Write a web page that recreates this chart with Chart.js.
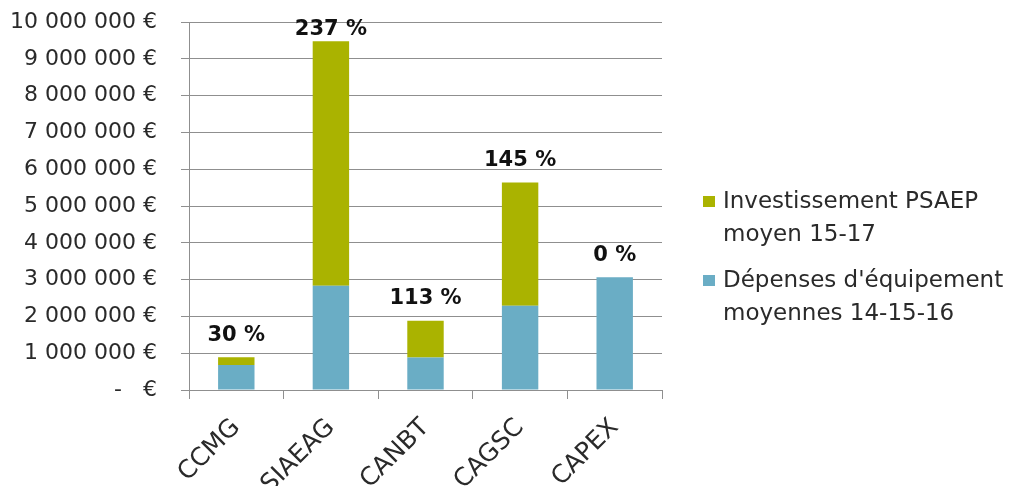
<!DOCTYPE html>
<html><head><meta charset="utf-8">
<script src="https://cdn.jsdelivr.net/npm/chart.js@4/dist/chart.umd.min.js"></script>
<style>html,body{margin:0;padding:0;background:#fff;} #wrap{width:1032px;height:486px;position:relative;}</style>
</head><body><div id="wrap"><canvas id="c" width="1032" height="486"></canvas></div>
<script>
const categories = ['CCMG', 'SIAEAG', 'CANBT', 'CAGSC', 'CAPEX'];
const depenses = [680000, 2830000, 880000, 2290000, 3065000];
const investissement = [210000, 6650000, 1005000, 3350000, 0];
const pctLabels = ['30 %', '237 %', '113 %', '145 %', '0 %'];
const seriesNames = ["Dépenses d'équipement moyennes 14-15-16", 'Investissement PSAEP moyen 15-17'];
const legendLines = [["Dépenses d'équipement", 'moyennes 14-15-16'], ['Investissement PSAEP', 'moyen 15-17']];
const yMax = 10000000;
const yStep = 1000000;

const FONT = '"DejaVu Sans", sans-serif';
const BLUE = '#6aadc5';
const GREEN = '#aab300';
const GRID = '#8f8f8f';
const TEXT = '#2a2a2a';

function fmtEuro(v) {
  if (v === 0) return '-   €';
  return String(Math.round(v)).replace(/\B(?=(\d{3})+(?!\d))/g, ' ') + ' €';
}

const sideLegend = {
  id: 'sideLegend',
  afterDraw(chart) {
    const ctx = chart.ctx;
    ctx.save();
    ctx.font = '23px ' + FONT;
    ctx.textAlign = 'left';
    ctx.textBaseline = 'alphabetic';
    let y = 208;
    const ds = chart.data.datasets;
    for (let k = ds.length - 1; k >= 0; k--) {
      ctx.fillStyle = ds[k].backgroundColor;
      ctx.fillRect(703, y - 12, 12, 11);
      ctx.fillStyle = TEXT;
      legendLines[k].forEach((line, j) => ctx.fillText(line, 723, y + j * 33));
      y += 33 * (legendLines[k].length - 1) + 46;
    }
    ctx.restore();
  }
};

const pctPlugin = {
  id: 'pctLabels',
  afterDatasetsDraw(chart) {
    const ctx = chart.ctx;
    const meta = chart.getDatasetMeta(chart.data.datasets.length - 1);
    ctx.save();
    ctx.font = 'bold 21px ' + FONT;
    ctx.textAlign = 'center';
    ctx.textBaseline = 'middle';
    ctx.fillStyle = '#111';
    meta.data.forEach((el, i) => {
      const y = Math.max(el.y - 22, chart.chartArea.top + 8);
      ctx.fillText(pctLabels[i], el.x, y);
    });
    ctx.restore();
  }
};

new Chart(document.getElementById('c'), {
  type: 'bar',
  data: {
    labels: categories,
    datasets: [
      { label: seriesNames[0], data: depenses, backgroundColor: BLUE, categoryPercentage: 0.385, barPercentage: 1 },
      { label: seriesNames[1], data: investissement, backgroundColor: GREEN, categoryPercentage: 0.385, barPercentage: 1 }
    ]
  },
  options: {
    responsive: false,
    animation: false,
    devicePixelRatio: 1,
    layout: { padding: { top: 22, right: 370, bottom: 0, left: 0 } },
    plugins: { legend: { display: false }, tooltip: { enabled: false } },
    scales: {
      x: {
        stacked: true,
        afterFit(s) { s.height = 96; s.paddingLeft = 0; s.paddingRight = 0; },
        grid: { drawOnChartArea: false, offset: true, tickLength: 9, color: GRID, lineWidth: 1 },
        border: { color: GRID },
        ticks: { font: { family: FONT, size: 25 }, color: TEXT, maxRotation: 45, minRotation: 45, padding: 14 }
      },
      y: {
        stacked: true,
        min: 0,
        max: yMax,
        afterFit(s) { s.width = 189; s.paddingTop = 0; s.paddingBottom = 0; },
        grid: { color: GRID, tickLength: 8, lineWidth: 1 },
        border: { color: GRID },
        ticks: { stepSize: yStep, font: { family: FONT, size: 22 }, color: TEXT, padding: 24, callback: v => fmtEuro(v) }
      }
    }
  },
  plugins: [pctPlugin, sideLegend]
});
</script></body></html>
